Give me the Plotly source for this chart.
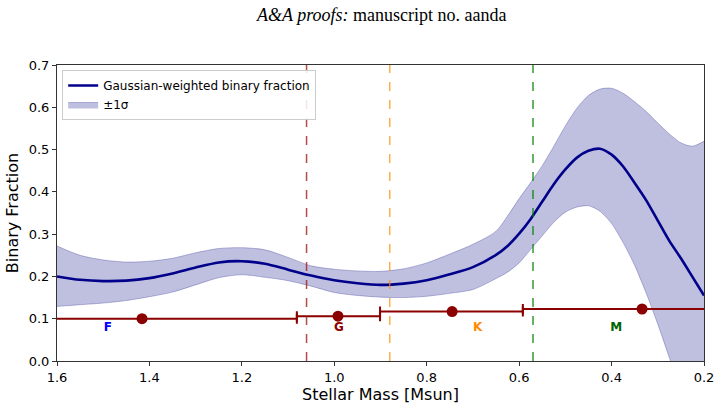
import plotly.graph_objects as go

# ---- data ----
mass = [1.60, 1.55, 1.50, 1.45, 1.40, 1.35, 1.30, 1.25, 1.20, 1.15, 1.10, 1.05, 1.00, 0.95,
        0.90, 0.85, 0.80, 0.75, 0.70, 0.65, 0.625, 0.60, 0.575, 0.55, 0.525, 0.50, 0.475, 0.45,
        0.425, 0.40, 0.375, 0.35, 0.325, 0.30, 0.275, 0.25, 0.225, 0.20]
frac = [0.200, 0.192, 0.189, 0.190, 0.196, 0.207, 0.221, 0.233, 0.236, 0.230, 0.216, 0.202, 0.191, 0.184,
        0.180, 0.183, 0.191, 0.205, 0.222, 0.251, 0.272, 0.301, 0.336, 0.377, 0.418, 0.453, 0.481, 0.497,
        0.502, 0.488, 0.460, 0.421, 0.380, 0.332, 0.284, 0.243, 0.199, 0.155]
upper = [0.272, 0.250, 0.239, 0.234, 0.236, 0.243, 0.256, 0.266, 0.268, 0.263, 0.245, 0.225, 0.217, 0.213,
         0.212, 0.218, 0.232, 0.253, 0.276, 0.307, 0.343, 0.384, 0.422, 0.462, 0.508, 0.556, 0.598, 0.628,
         0.643, 0.645, 0.633, 0.613, 0.590, 0.563, 0.537, 0.516, 0.508, 0.520]
lower = [0.129, 0.133, 0.137, 0.143, 0.152, 0.163, 0.180, 0.197, 0.204, 0.198, 0.190, 0.177, 0.162, 0.155,
         0.151, 0.150, 0.153, 0.160, 0.169, 0.195, 0.210, 0.232, 0.264, 0.296, 0.328, 0.352, 0.364, 0.367,
         0.354, 0.325, 0.280, 0.226, 0.160, 0.087, 0.008, -0.070, -0.145, -0.215]

spec_types = ["F", "G", "K", "M"]
spec_mass = [1.416, 0.992, 0.745, 0.334]
spec_frac = [0.100, 0.106, 0.117, 0.123]
bin_low = [1.081, 0.901, 0.592, 0.076]
bin_high = [1.751, 1.081, 0.901, 0.592]
label_mass = [1.49, 0.99, 0.69, 0.39]
label_y = [0.078, 0.078, 0.078, 0.078]
label_colors = ["#0000FF", "#8B0000", "#FF8C00", "#006400"]

boundary_mass = [1.06, 0.88, 0.57]
boundary_colors = ["rgba(160,30,30,0.8)", "rgba(255,140,0,0.7)", "rgba(0,128,0,0.8)"]

FONT = "DejaVu Sans"

fig = go.Figure()

band_edge = dict(color="rgba(0,0,128,0.25)", width=1, shape="spline", smoothing=0.8)
fig.add_trace(go.Scatter(x=mass, y=lower, mode="lines", line=band_edge,
                         showlegend=False, hoverinfo="skip"))
fig.add_trace(go.Scatter(x=mass, y=upper, mode="lines", line=band_edge,
                         fill="tonexty", fillcolor="rgba(0,0,128,0.25)",
                         name="±1σ", legendrank=2))
fig.add_trace(go.Scatter(x=mass, y=frac, mode="lines",
                         line=dict(color="#00008B", width=2.6, shape="spline", smoothing=0.8),
                         name="Gaussian-weighted binary fraction", legendrank=1))

err_plus = [h - m for h, m in zip(bin_high, spec_mass)]
err_minus = [m - l for m, l in zip(spec_mass, bin_low)]
fig.add_trace(go.Scatter(x=spec_mass, y=spec_frac, mode="markers",
                         marker=dict(color="#8B0000", size=11),
                         error_x=dict(type="data", symmetric=False, array=err_plus,
                                      arrayminus=err_minus, color="#8B0000",
                                      thickness=2, width=5),
                         showlegend=False))

fig.add_trace(go.Scatter(x=label_mass, y=label_y, mode="text", text=spec_types,
                         texttemplate="<b>%{text}</b>",
                         textfont=dict(family=FONT, size=12, color=label_colors),
                         showlegend=False))

for bm, bc in zip(boundary_mass, boundary_colors):
    fig.add_shape(type="line", xref="x", yref="paper", x0=bm, x1=bm, y0=0, y1=1,
                  line=dict(color=bc, width=1.5, dash="dash"), layer="above")

axis_common = dict(showline=True, linecolor="#333333", linewidth=1, mirror=True,
                   ticks="outside", ticklen=4, tickcolor="#333333",
                   showgrid=False, zeroline=False, automargin=False,
                   tickfont=dict(family=FONT, size=13, color="black"))

fig.update_layout(
    width=720, height=407,
    margin=dict(l=57, r=16, t=65, b=46),
    plot_bgcolor="white", paper_bgcolor="white",
    xaxis=dict(range=[1.6, 0.2], dtick=0.2, tick0=0.2, tickformat=".1f",
               title=dict(text="Stellar Mass [Msun]", font=dict(family=FONT, size=16, color="black"),
                          standoff=2),
               **axis_common),
    yaxis=dict(range=[0, 0.7], dtick=0.1, tickformat=".1f",
               title=dict(text="Binary Fraction", font=dict(family=FONT, size=16, color="black"),
                          standoff=6),
               **axis_common),
    legend=dict(x=0.008, y=0.983, xanchor="left", yanchor="top", traceorder="normal",
                bgcolor="rgba(255,255,255,0.85)", bordercolor="#cccccc", borderwidth=1,
                font=dict(family=FONT, size=12, color="black"), itemwidth=30,
                tracegroupgap=0),
    showlegend=True,
    annotations=[dict(text="<i>A&A proofs:</i> manuscript no. aanda", xref="paper", yref="paper",
                      x=0.5, y=1 + (65 - 15) / 296, xanchor="center", yanchor="middle",
                      showarrow=False,
                      font=dict(family="Liberation Serif", size=18, color="black"))],
)

fig.write_html("out.html")
